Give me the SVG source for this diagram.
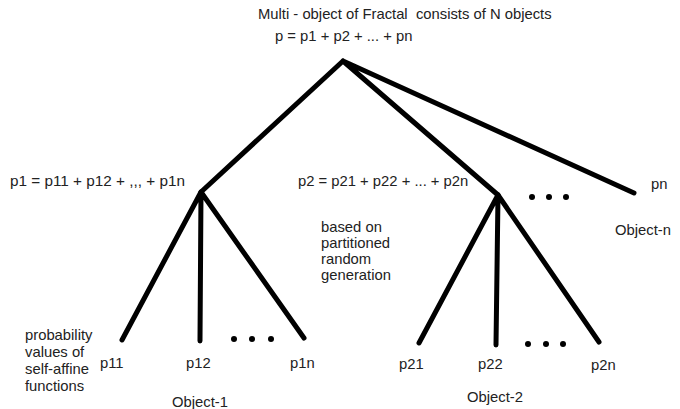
<svg xmlns="http://www.w3.org/2000/svg" width="680" height="409" viewBox="0 0 680 409">
<style>
text{font-family:"Liberation Sans",Arial,sans-serif;font-size:14.8px;fill:#222;white-space:pre}
.e{stroke:#000;stroke-width:5;stroke-linecap:round;fill:none}
.d{fill:#000}
</style>
<rect width="680" height="409" fill="#fff"/>
<g id="connectors">
<path class="e" d="M343 61L201 192M343 61L498 195M343 61L634 193"/>
<path class="e" d="M201 192L122 340M201 192L200 341M201 192L304 338"/>
<path class="e" d="M498 195L419 343M498 195L496 345M498 195L599 342"/>
</g>
<g id="root"><text x="258" y="19" xml:space="preserve">Multi - object of Fractal  consists of N objects</text><text x="275" y="41">p = p1 + p2 + ... + pn</text></g>
<g id="node1"><text x="10" y="186" style="font-size:15.3px">p1 = p11 + p12 + ,,, + p1n</text></g>
<g id="node2"><text x="298" y="186">p2 = p21 + p22 + ... + p2n</text></g>
<g id="dots-mid"><circle class="d" cx="532" cy="197" r="3"/><circle class="d" cx="549" cy="197" r="3"/><circle class="d" cx="566" cy="197" r="3"/></g>
<g id="noden"><text x="651" y="189">pn</text><text x="615" y="235">Object-n</text></g>
<g id="note"><text x="321" y="232">based on</text><text x="321" y="248">partitioned</text><text x="321" y="264">random</text><text x="321" y="280">generation</text></g>
<g id="prob"><text x="25" y="340">probability</text><text x="25" y="357">values of</text><text x="25" y="374">self-affine</text><text x="25" y="391">functions</text></g>
<g id="p11"><text x="100" y="368">p11</text></g>
<g id="p12"><text x="186" y="368">p12</text></g>
<g id="dots1"><circle class="d" cx="234" cy="339" r="3"/><circle class="d" cx="252" cy="339" r="3"/><circle class="d" cx="271" cy="339" r="3"/></g>
<g id="p1n"><text x="290" y="368">p1n</text></g>
<g id="obj1"><text x="172" y="407">Object-1</text></g>
<g id="p21"><text x="399" y="369">p21</text></g>
<g id="p22"><text x="478" y="369">p22</text></g>
<g id="dots2"><circle class="d" cx="528" cy="344" r="3"/><circle class="d" cx="546" cy="344" r="3"/><circle class="d" cx="563" cy="344" r="3"/></g>
<g id="p2n"><text x="591" y="370">p2n</text></g>
<g id="obj2"><text x="467" y="402">Object-2</text></g>
</svg>
